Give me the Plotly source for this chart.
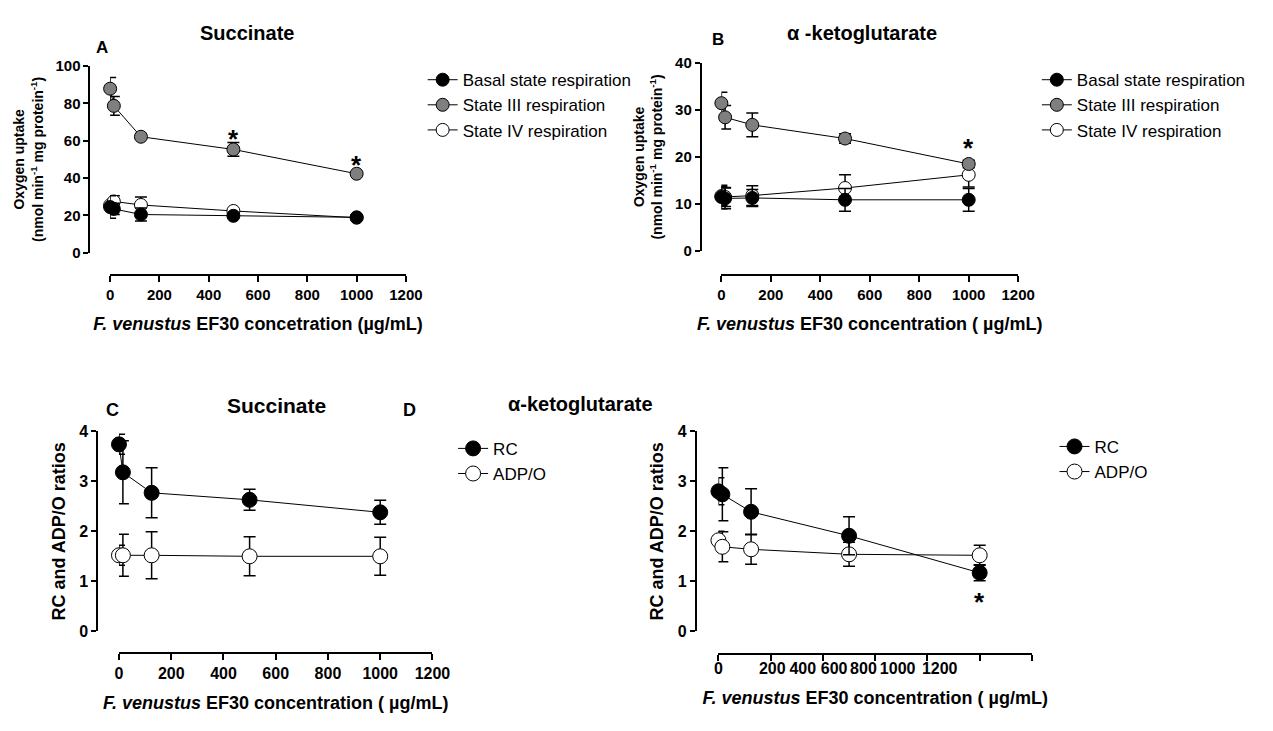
import plotly.graph_objects as go

W, H = 1273, 731
FONT = "Liberation Sans"

# ---------------- data ----------------
conc = [0, 15, 125, 500, 1000]
x_ticks = [0, 200, 400, 600, 800, 1000, 1200]
x_tick_labels = ["0", "200", "400", "600", "800", "1000", "1200"]

# Panel A - succinate, oxygen uptake
basal_A = [24.5, 23.5, 20.5, 19.8, 19.0]
basal_A_err = [6.0, 3.0, 3.5, 1.0, 1.0]
state3_A = [87.8, 78.6, 62.1, 55.3, 42.3]
state3_A_err = [6.0, 5.0, 1.0, 3.7, 1.0]
state4_A = [25.5, 27.5, 25.6, 22.4, 18.8]
state4_A_err = [4.0, 3.0, 4.3, 1.0, 1.0]
A_y_ticks = [0, 20, 40, 60, 80, 100]
A_stars_x = [500, 1000]
A_stars_y = [64.2, 50.4]

# Panel B - alpha-ketoglutarate, oxygen uptake
basal_B = [11.5, 11.2, 11.3, 10.9, 10.9]
basal_B_err = [2.5, 2.2, 1.8, 2.4, 2.4]
state3_B = [31.4, 28.4, 26.8, 23.9, 18.5]
state3_B_err = [2.3, 2.5, 2.5, 1.0, 0.8]
state4_B = [11.7, 11.5, 11.8, 13.4, 16.2]
state4_B_err = [2.0, 2.0, 2.1, 2.8, 2.6]
B_y_ticks = [0, 10, 20, 30, 40]
B_stars_x = [1000]
B_stars_y = [23.1]

# Panel C - succinate, ratios
rc_C = [3.74, 3.18, 2.77, 2.63, 2.38]
rc_C_err = [0.20, 0.63, 0.50, 0.21, 0.24]
adpo_C = [1.52, 1.52, 1.52, 1.50, 1.50]
adpo_C_err = [0.20, 0.42, 0.47, 0.39, 0.38]

# Panel D - alpha-ketoglutarate, ratios
rc_D = [2.80, 2.74, 2.39, 1.91, 1.17]
rc_D_err = [0.27, 0.53, 0.46, 0.38, 0.16]
adpo_D = [1.82, 1.69, 1.64, 1.54, 1.52]
adpo_D_err = [0.18, 0.30, 0.30, 0.24, 0.20]
D_stars_x = [1000]
D_stars_y = [0.71]
ratio_y_ticks = [0, 1, 2, 3, 4]
D_tick_labels = ["0", "200", "400", "600", "800", "1000", "1200"]
D_tick_label_pos = [0, 206, 323, 443, 555, 686, 847]

# texts
title_suc = "Succinate"
title_akg_top = "α -ketoglutarate"
title_akg_bottom = "α-ketoglutarate"
ytitle_ox = "Oxygen uptake<br>(nmol min<sup>-1</sup> mg protein<sup>-1</sup>)"
ytitle_ratio = "RC and ADP/O ratios"
xtitle_A = "<i>F. venustus</i> EF30 concetration (µg/mL)"
xtitle_other = "<i>F. venustus</i> EF30 concentration ( µg/mL)"


def fx(p):
    return p / W


def fy(p):
    return 1 - p / H


fig = go.Figure()


def series(x, y, err, name, fill, xa, ya, legend, rank, size):
    fig.add_trace(go.Scatter(
        x=x, y=y, mode="lines+markers", name=name,
        line=dict(color="black", width=1),
        marker=dict(size=size, color=fill, line=dict(color="black", width=1)),
        error_y=dict(type="data", array=err, color="black", thickness=1.5, width=6),
        xaxis=xa, yaxis=ya, legend=legend, legendrank=rank, cliponaxis=False,
    ))


GRAY = "#7f7f7f"
# Panel A
series(conc, state4_A, state4_A_err, "State IV respiration", "white", "x", "y", "legend", 3, 13)
series(conc, state3_A, state3_A_err, "State III respiration", GRAY, "x", "y", "legend", 2, 13)
series(conc, basal_A, basal_A_err, "Basal state respiration", "black", "x", "y", "legend", 1, 13)
# Panel B
series(conc, state4_B, state4_B_err, "State IV respiration", "white", "x2", "y2", "legend2", 3, 13)
series(conc, state3_B, state3_B_err, "State III respiration", GRAY, "x2", "y2", "legend2", 2, 13)
series(conc, basal_B, basal_B_err, "Basal state respiration", "black", "x2", "y2", "legend2", 1, 13)
# Panel C
series(conc, adpo_C, adpo_C_err, "ADP/O", "white", "x3", "y3", "legend3", 2, 15)
series(conc, rc_C, rc_C_err, "RC", "black", "x3", "y3", "legend3", 1, 15)
# Panel D
series(conc, adpo_D, adpo_D_err, "ADP/O", "white", "x4", "y4", "legend4", 2, 15)
series(conc, rc_D, rc_D_err, "RC", "black", "x4", "y4", "legend4", 1, 15)


def xax(x0, x1, pos, fsize, title, **kw):
    d = dict(domain=[fx(x0), fx(x1)], range=[0, 1200], anchor="free", position=fy(pos),
             showline=True, linecolor="black", linewidth=2, ticks="outside", ticklen=6,
             tickwidth=2, tickcolor="black", tickvals=x_ticks, ticktext=x_tick_labels,
             tickfont=dict(family=FONT, size=fsize, color="black", weight="bold"),
             title=dict(text=title, standoff=14,
                        font=dict(family=FONT, size=18, color="black", weight="bold")),
             showgrid=False, zeroline=False)
    d.update(kw)
    return d


def yax(y0, y1, pos, rng, tv, fsize, title, tsize):
    return dict(domain=[fy(y1), fy(y0)], range=rng, anchor="free", position=fx(pos),
                showline=True, linecolor="black", linewidth=2, ticks="outside", ticklen=5,
                tickwidth=2, tickcolor="black", tickvals=tv, ticktext=[str(v) for v in tv],
                tickfont=dict(family=FONT, size=fsize, color="black", weight="bold"),
                title=dict(text=title, standoff=8,
                           font=dict(family=FONT, size=tsize, color="black", weight="bold")),
                showgrid=False, zeroline=False)


layout = dict(
    width=W, height=H, margin=dict(l=0, r=0, t=0, b=0), autosize=False,
    paper_bgcolor="white", plot_bgcolor="white",
    xaxis=xax(108, 409, 273, 15, xtitle_A),
    yaxis=yax(58.3, 250, 87, [0, 100], A_y_ticks, 15, ytitle_ox, 14),
    xaxis2=xax(730, 1032, 273, 15, xtitle_other),
    yaxis2=yax(55, 248.3, 709, [0, 40], B_y_ticks, 15, ytitle_ox, 14),
    xaxis3=xax(117, 436, 660, 16, xtitle_other),
    yaxis3=yax(433, 638, 95, [0, 4], ratio_y_ticks, 16, ytitle_ratio, 18),
    xaxis4=xax(727, 1046, 661, 16, xtitle_other, tickvals=D_tick_label_pos, ticktext=D_tick_labels,
               ticks="", minor=dict(tickvals=x_ticks, ticks="outside", ticklen=6, tickwidth=2,
                                    tickcolor="black")),
    yaxis4=yax(433, 638, 704, [0, 4], ratio_y_ticks, 16, ytitle_ratio, 18),
)

leg_common = dict(xanchor="left", yanchor="top", bgcolor="rgba(0,0,0,0)", borderwidth=0,
                  font=dict(family=FONT, size=17, color="black"), traceorder="normal")
layout["legend"] = dict(x=fx(426), y=fy(54.5), **leg_common)
layout["legend2"] = dict(x=fx(1051), y=fy(54.5), **leg_common)
layout["legend3"] = dict(x=fx(457), y=fy(432.5), **leg_common)
layout["legend4"] = dict(x=fx(1069), y=fy(430.5), **leg_common)

fig.update_layout(**layout)


def ann(text, px, py, size, xanchor="center"):
    fig.add_annotation(text=text, x=fx(px), y=fy(py), xref="paper", yref="paper",
                       xanchor=xanchor, yanchor="middle", showarrow=False,
                       font=dict(family=FONT, size=size, color="black", weight="bold"))


# titles and panel letters
ann(title_suc, 247, 25, 20)
ann("A", 100, 39, 17)
ann(title_akg_top, 873, 25, 20)
ann("B", 727, 31, 17)
ann(title_suc, 277, 406, 21)
ann("C", 110, 411, 18)
ann("D", 413, 411, 18)
ann(title_akg_bottom, 662, 405, 20, xanchor="right")


# significance stars (data coordinates)
def stars(xs, ys, xr, yr):
    for sx, sy in zip(xs, ys):
        fig.add_annotation(text="*", x=sx, y=sy, xref=xr, yref=yr, showarrow=False,
                           yanchor="middle", yshift=-6,
                           font=dict(family=FONT, size=26, color="black", weight="bold"))


stars(A_stars_x, A_stars_y, "x", "y")
stars(B_stars_x, B_stars_y, "x2", "y2")
stars(D_stars_x, D_stars_y, "x4", "y4")

fig.write_html("out.html")
